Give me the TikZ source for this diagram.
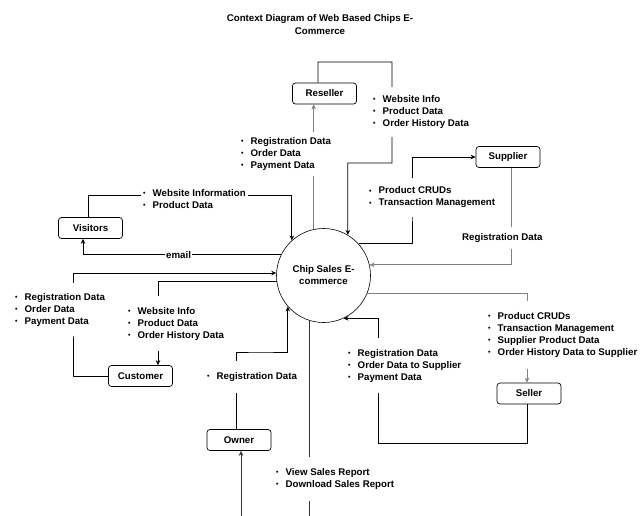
\documentclass[tikz,border=0pt]{standalone}
\usepackage{fontspec}
\setmainfont{Liberation Sans}
\usetikzlibrary{arrows.meta,calc}
\newcommand\bp{\makebox[9.5pt][l]{\raisebox{0.6pt}{\fontsize{7}{7}\selectfont\textbullet}}}
\begin{document}
\begin{tikzpicture}[x=1pt,y=-1pt,
  font=\fontsize{9.7}{12}\selectfont\bfseries,
  ent/.style={draw=black, rounded corners=3pt, minimum width=64pt, minimum height=21pt, inner sep=0pt, line width=0.7pt},
  proc/.style={draw=black, circle, minimum size=94pt, inner sep=0pt, line width=0.6pt, align=center},
  flow/.style={draw=black, line width=0.75pt},
  arr/.style={flow, -{Stealth[length=5pt,width=4.5pt]}},
  lt/.style={draw=black!50},
  lab/.style={fill=white, align=left, inner xsep=2pt, inner ysep=5pt, anchor=west},
]
\useasboundingbox (0,0) rectangle (640,515);
\fill[white] (0,0) rectangle (640,515);
\clip (0,0) rectangle (640,515);

\node[align=center, font=\fontsize{9.7}{13}\selectfont\bfseries] (title) at (320,25) {Context Diagram of Web Based Chips E-\\Commerce};

\node[ent] (res) at (324.5,93.5) {Reseller};
\node[ent] (sup) at (508,157) {Supplier};
\node[ent] (vis) at (90.5,228) {Visitors};
\node[ent] (cus) at (140.5,376) {Customer};
\node[ent] (own) at (239,440) {Owner};
\node[ent] (sel) at (529,393.5) {Seller};
\node[proc] (sys) at (323.5,275.5) {Chip Sales E-\\commerce};

% Reseller
\draw[arr] ([xshift=-6.5pt]res.north) |- (392,62) |- (347.7,163) -- (sys.59);
\draw[arr,lt] (sys.102) -- (sys.102 |- res.south);
% Supplier
\draw[arr] (sys.42) -| (412,200) |- (sup.west);
\draw[arr,lt] ([xshift=3pt]sup.south) |- (sys.13);
% Visitors
\draw[arr] ([xshift=-2.5pt]vis.north) |- (200,195) -| (sys.132);
\draw[arr] (sys.153) -| ([xshift=-7.5pt]vis.south);
% Customer
\draw[arr] (cus.west) -| (73,300) |- (sys.177);
\draw[arr] (sys.187) -| ([xshift=17.5pt]cus.north);
% Owner
\draw[arr] ([xshift=-3pt]own.north) |- (260,352) -| (sys.221);
\draw[arr,draw=black!80] (sys.253) |- (280,540) -| ([xshift=2pt]own.south);
% Seller
\draw[arr,lt] (sys.338) -| ([xshift=-2pt]sel.north);
\draw[arr] ([xshift=-2pt]sel.south) |- (378,443) |- (sys.295);

% labels
\node[lab] (l1) at (239,154) {\bp Registration Data\\\bp Order Data\\\bp Payment Data};
\node[lab, inner ysep=8pt] (l2) at (371,112) {\bp Website Info\\\bp Product Data\\\bp Order History Data};
\node[lab, inner ysep=9pt] (l3) at (367,197.5) {\bp Product CRUDs\\\bp Transaction Management};
\node[lab, inner ysep=6pt] (l4) at (460,238) {Registration Data};
\node[lab, inner ysep=3pt] (l5) at (141,199) {\bp Website Information\\\bp Product Data};
\node[lab, inner ysep=2pt, inner xsep=1pt] (l6) at (165,255) {email};
\node[lab, inner ysep=10pt] (l7) at (13,309.5) {\bp Registration Data\\\bp Order Data\\\bp Payment Data};
\node[lab, inner ysep=11pt] (l8) at (126,323.5) {\bp Website Info\\\bp Product Data\\\bp Order History Data};
\node[lab, inner ysep=11.5pt] (l9) at (205,377) {\bp Registration Data};
\node[lab, inner ysep=11pt] (l10) at (274,479) {\bp View Sales Report\\\bp Download Sales Report};
\node[lab, inner ysep=11pt] (l11) at (346,365.5) {\bp Registration Data\\\bp Order Data to Supplier\\\bp Payment Data};
\node[lab, inner ysep=11.5pt] (l12) at (486,335) {\bp Product CRUDs\\\bp Transaction Management\\\bp Supplier Product Data\\\bp Order History Data to Supplier};
\end{tikzpicture}
\end{document}
